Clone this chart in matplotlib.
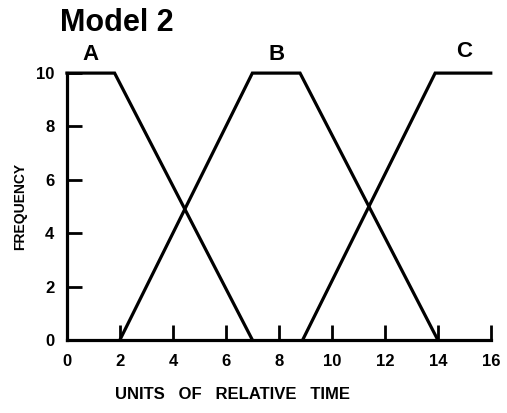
import matplotlib
matplotlib.use("Agg")
import matplotlib.pyplot as plt

# Data
a_x = [0, 1.8, 7.0]
a_y = [10, 10, 0]
b_x = [2.0, 7.0, 8.8, 14.0]
b_y = [0, 10, 10, 0]
c_x = [8.9, 13.9, 16.0]
c_y = [0, 10, 10]
series_labels = ["A", "B", "C"]
label_pos = [(0.9, 10.3), (7.9, 10.3), (15.0, 10.4)]
x_ticks = [0, 2, 4, 6, 8, 10, 12, 14, 16]
y_ticks = [0, 2, 4, 6, 8, 10]

plt.rcParams['font.family'] = ['Liberation Sans', 'DejaVu Sans']
plt.rcParams['font.weight'] = 'bold'

fig = plt.figure(figsize=(5.07, 4.13), dpi=100)
ax = fig.add_axes([0.132, 0.177, 0.836, 0.646])

lw = 2.3
for xs, ys in [(a_x, a_y), (b_x, b_y), (c_x, c_y)]:
    ax.plot(xs, ys, color='black', lw=lw, clip_on=False, solid_joinstyle='miter')

for lab, (lx, ly) in zip(series_labels, label_pos):
    ax.text(lx, ly, lab, ha='center', va='bottom', fontsize=16, fontweight='bold')

ax.set_xlim(0, 16)
ax.set_ylim(0, 10)
for s in ['top', 'right']:
    ax.spines[s].set_visible(False)
for s in ['left', 'bottom']:
    ax.spines[s].set_linewidth(lw)

ax.set_xticks(x_ticks)
ax.set_yticks(y_ticks)
ax.tick_params(axis='both', direction='in', length=11, width=2.0, labelsize=12)
ax.tick_params(axis='x', pad=10)
ax.tick_params(axis='y', pad=9)
for lbl in ax.get_xticklabels() + ax.get_yticklabels():
    lbl.set_fontweight('bold')

ax.set_ylabel('FREQUENCY', fontsize=10, fontweight='bold')
ax.yaxis.set_label_coords(-0.095, 0.5)
ax.set_xlabel('UNITS   OF   RELATIVE   TIME', fontsize=12, fontweight='bold')
ax.xaxis.set_label_coords(0.39, -0.175)

fig.text(0.118, 0.945, 'Model 2', fontsize=22, fontweight='bold', ha='left', va='center')

fig.savefig('out.png', dpi=100)
